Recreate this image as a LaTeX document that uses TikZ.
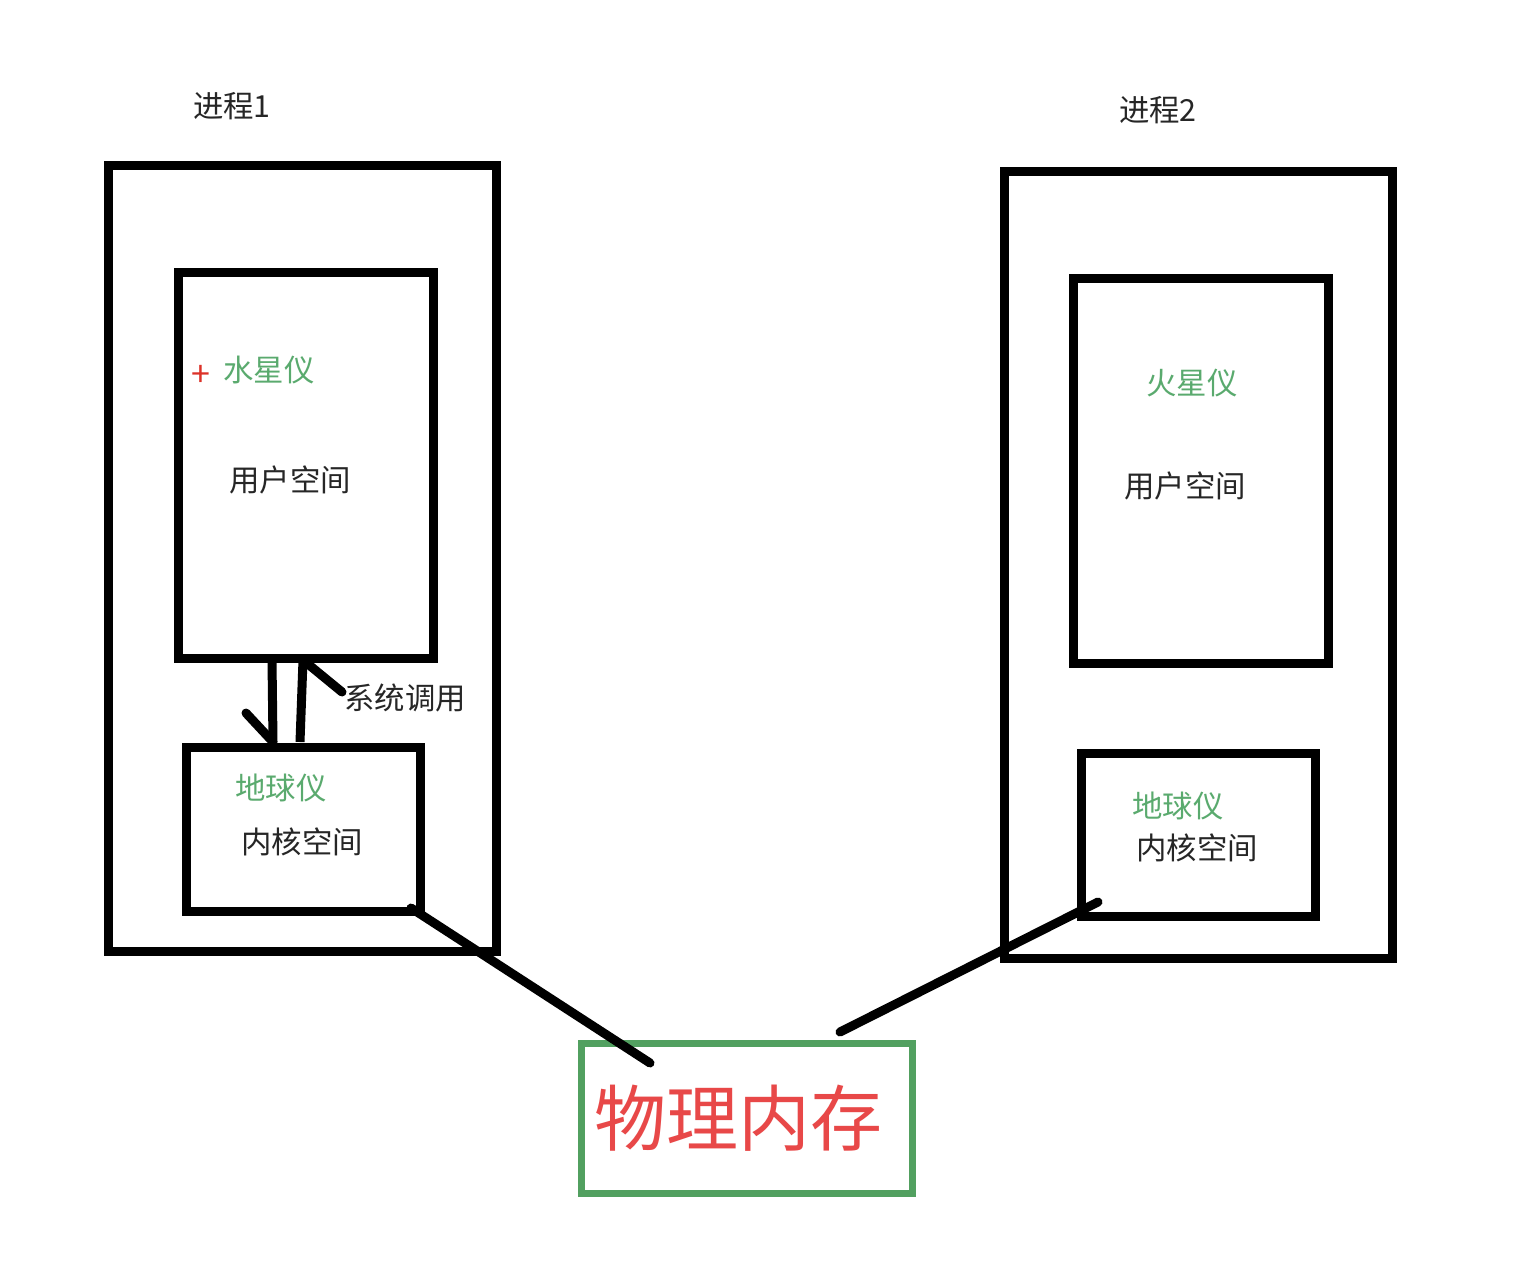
\documentclass[tikz,border=0pt]{standalone}
\usepackage{fontspec}
\newfontfamily\cjk{Noto Sans CJK SC}
\definecolor{lbl}{RGB}{90,170,110}
\definecolor{memred}{RGB}{232,72,72}
\definecolor{memgreen}{RGB}{82,160,96}
\definecolor{plusred}{RGB}{220,50,40}
\begin{document}
\begin{tikzpicture}[x=0.5pt,y=-0.5pt,
  box/.style={draw=black,line width=4.5pt},
  txt/.style={font=\cjk\fontsize{15.2}{18}\selectfont,text=black!85,inner sep=0pt},
  gtxt/.style={font=\cjk\fontsize{15.2}{18}\selectfont,text=lbl,inner sep=0pt},
  conn/.style={draw=black,line width=4.5pt,line cap=round}]
\useasboundingbox (0,0) rectangle (1540,1264);
\fill[white] (0,0) rectangle (1540,1264);
% process 1
\draw[box] (108,165) rectangle (496,951);
\draw[box] (178,272) rectangle (433,658);
\draw[box] (186,747) rectangle (420,911);
\coordinate (u1a) at (272,660);
\coordinate (k1a) at (273,742);
\coordinate (k1b) at (300,742);
\coordinate (u1b) at (303,660);
\draw[conn,line cap=butt] (u1a) -- (k1a);
\draw[conn,line cap=butt] (k1b) -- (u1b);
\coordinate (h1) at (246,713);
\coordinate (h2) at (342,692);
\draw[conn] (h1) -- (k1a);
\draw[conn] (h2) -- (u1b);
\node[txt] (p1) at (232,106) {进程1};
\node[gtxt] (sx) at (269,370) {水星仪};
\node[font=\cjk\fontsize{17}{18}\selectfont,text=plusred,inner sep=0pt] (plus) at (201,376) {+};
\node[txt] (us1) at (290,480) {用户空间};
\node[txt] (sc) at (405,698) {系统调用};
\node[gtxt] (dq1) at (281,788) {地球仪};
\node[txt] (ks1) at (302,842) {内核空间};
% process 2
\draw[box] (1004,171) rectangle (1392,958);
\draw[box] (1073,278) rectangle (1328,663);
\draw[box] (1081,753) rectangle (1315,916);
\node[txt] (p2) at (1158,110) {进程2};
\node[gtxt] (hx) at (1192,383) {火星仪};
\node[txt] (us2) at (1185,486) {用户空间};
\node[gtxt] (dq2) at (1178,806) {地球仪};
\node[txt] (ks2) at (1197,848) {内核空间};
% physical memory
\node[draw=memgreen,line width=3.5pt,minimum width=331pt/2,minimum height=150pt/2,inner sep=0pt,
  font=\cjk\fontsize{36}{40}\selectfont,text=memred] (mem) at (746.5,1118) {\hspace*{-8pt}物理内存};
\coordinate (a1) at (411,908);
\coordinate (a2) at (650,1063);
\coordinate (b1) at (840,1032);
\coordinate (b2) at (1098,902);
\draw[conn] (a1) -- (a2);
\draw[conn] (b1) -- (b2);
\end{tikzpicture}
\end{document}
